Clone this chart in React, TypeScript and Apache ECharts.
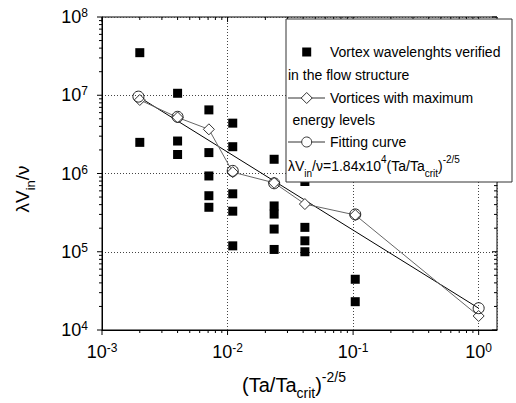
import React, { useEffect, useRef } from 'react';
import * as echarts from 'echarts';

// ---- data ----
const squareX = [
  0.002, 0.002,
  0.004, 0.004, 0.004,
  0.0071, 0.0071, 0.0071, 0.0071, 0.0071,
  0.011, 0.011, 0.011, 0.011, 0.011,
  0.0235, 0.0235, 0.0235, 0.0235, 0.0235,
  0.0413, 0.0413, 0.0413, 0.0413,
  0.104, 0.104,
];
const squareY = [
  3.5e7, 2.5e6,
  1.06e7, 2.6e6, 1.75e6,
  6.5e6, 1.85e6, 9.3e5, 5.2e5, 3.7e5,
  4.4e6, 2.2e6, 5.5e5, 3.3e5, 1.19e5,
  1.52e6, 3.85e5, 3.03e5, 1.95e5, 1.07e5,
  7.9e5, 2.05e5, 1.38e5, 1.0e5,
  4.45e4, 2.3e4,
];
const diamondX = [0.002, 0.004, 0.0071, 0.011, 0.0235, 0.0413, 0.104, 1];
const diamondY = [8.7e6, 5.2e6, 3.67e6, 1.04e6, 7.6e5, 4.07e5, 2.95e5, 1.51e4];
const circleX = [0.00195, 0.004, 0.011, 0.0235, 0.104, 1];
const circleY = [9.6e6, 5.3e6, 1.08e6, 7.5e5, 3.0e5, 1.9e4];
const fitX = [0.00195, 1];
const fitY = [9.6e6, 1.9e4];

const X_MIN = 0.001;
const X_MAX = 1.4;
const Y_MIN = 1e4;
const Y_MAX = 1e8;
const X_DECADES = [-3, -2, -1, 0];
const Y_DECADES = [4, 5, 6, 7, 8];

const legendLabels = [
  'Vortex wavelenghts verified',
  'in the flow structure',
  'Vortices with maximum',
  'energy levels',
  'Fitting curve',
];

const FONT = '"Liberation Sans", Arial, Helvetica, sans-serif';

function pairs(xs: number[], ys: number[]) {
  return xs.map((x, i) => [x, ys[i]]);
}

function buildTicks() {
  const t: number[][] = [];
  for (const e of X_DECADES) {
    for (let m = 1; m <= 9; m++) {
      const v = m * Math.pow(10, e);
      if (v > X_MAX * 1.0001) break;
      const major = m === 1 ? 1 : 0;
      t.push([v, Y_MIN, 0, major]);
      t.push([v, Y_MAX, 1, major]);
    }
  }
  for (const e of Y_DECADES) {
    for (let m = 1; m <= 9; m++) {
      const v = m * Math.pow(10, e);
      if (v > Y_MAX * 1.0001) break;
      const major = m === 1 ? 1 : 0;
      t.push([X_MIN, v, 2, major]);
      t.push([X_MAX, v, 3, major]);
    }
  }
  return t;
}

function powLabel(v: number) {
  const l = Math.log10(v);
  const e = Math.round(l);
  if (Math.abs(l - e) > 1e-6) return '';
  return `{b|10}{s|${e}}`;
}

const tickRich = {
  b: { fontSize: 18, fontFamily: FONT, color: '#000', lineHeight: 20 },
  s: { fontSize: 12, fontFamily: FONT, color: '#000', lineHeight: 12, verticalAlign: 'top' },
};

export default function App() {
  const ref = useRef<HTMLDivElement>(null);

  useEffect(() => {
    document.body.style.margin = '0';
    document.body.style.overflow = 'hidden';
    if (!ref.current) return;
    const chart = echarts.init(ref.current, undefined, { renderer: 'svg' });

    const txt = (text: string, x: number, y: number, extra: any = {}) => ({
      type: 'text',
      x,
      y,
      z: 102,
      style: {
        text,
        fill: '#000',
        fontSize: 14,
        fontFamily: FONT,
        align: 'left',
        verticalAlign: 'middle',
        ...extra,
      },
    });

    const lx1 = 288;
    const lx2 = 325;
    const lmx = 306.7;

    const option: any = {
      animation: false,
      backgroundColor: '#ffffff',
      grid: {
        left: 102,
        right: 19,
        top: 17,
        bottom: 73,
        show: true,
        borderColor: '#000',
        borderWidth: 1,
        backgroundColor: 'transparent',
        outerBoundsMode: 'none',
      },
      xAxis: {
        type: 'log',
        logBase: 10,
        min: X_MIN,
        max: X_MAX,
        axisLine: { show: true, lineStyle: { color: '#000', width: 1 } },
        axisTick: { show: false },
        minorTick: { show: false },
        splitLine: { show: true, lineStyle: { color: '#444', width: 1, type: [1, 2] } },
        axisLabel: {
          margin: 12,
          showMinLabel: true,
          showMaxLabel: true,
          formatter: powLabel,
          rich: tickRich,
        },
      },
      yAxis: {
        type: 'log',
        logBase: 10,
        min: Y_MIN,
        max: Y_MAX,
        axisLine: { show: true, lineStyle: { color: '#000', width: 1 } },
        axisTick: { show: false },
        minorTick: { show: false },
        splitLine: { show: true, lineStyle: { color: '#444', width: 1, type: [1, 2] } },
        axisLabel: {
          margin: 14,
          showMinLabel: true,
          showMaxLabel: true,
          formatter: powLabel,
          rich: tickRich,
        },
      },
      series: [
        {
          type: 'custom',
          name: 'ticks',
          clip: false,
          silent: true,
          z: 5,
          data: buildTicks(),
          renderItem: (params: any, api: any) => {
            const p = api.coord([api.value(0), api.value(1)]);
            const side = api.value(2);
            const len = api.value(3) ? 5 : 3;
            const x1 = p[0];
            const y1 = p[1];
            let x2 = x1;
            let y2 = y1;
            if (side === 0 || side === 1) {
              y2 = y1 + len;
            } else {
              x2 = x1 - len;
            }
            return {
              type: 'line',
              shape: { x1, y1, x2, y2 },
              style: { stroke: '#000', lineWidth: 1 },
            };
          },
        },
        {
          type: 'line',
          name: 'Fitting curve line',
          data: pairs(fitX, fitY),
          symbol: 'none',
          lineStyle: { color: '#000', width: 1 },
          z: 3,
        },
        {
          type: 'line',
          name: 'Vortices with maximum energy levels',
          data: pairs(diamondX, diamondY),
          symbol: 'diamond',
          symbolSize: 11,
          lineStyle: { color: '#666', width: 1 },
          itemStyle: { color: '#fff', borderColor: '#333', borderWidth: 1, opacity: 1 },
          z: 4,
        },
        {
          type: 'scatter',
          name: 'Fitting curve',
          data: pairs(circleX, circleY),
          symbol: 'circle',
          symbolSize: 11,
          itemStyle: { color: 'rgba(255,255,255,0)', borderColor: '#222', borderWidth: 1, opacity: 1 },
          z: 4,
        },
        {
          type: 'scatter',
          name: 'Vortex wavelenghts verified in the flow structure',
          data: pairs(squareX, squareY),
          symbol: 'rect',
          symbolSize: 9,
          itemStyle: { color: '#000', opacity: 1 },
          z: 4,
        },
      ],
      graphic: [
        // legend box
        {
          type: 'rect',
          z: 100,
          shape: { x: 286, y: 19, width: 226, height: 163 },
          style: { fill: '#fff', stroke: '#333', lineWidth: 1 },
        },
        {
          type: 'rect',
          z: 101,
          shape: { x: lmx - 4.5, y: 47.5, width: 9, height: 9 },
          style: { fill: '#000' },
        },
        txt(legendLabels[0], 330, 52),
        txt(legendLabels[1], 288, 75),
        {
          type: 'line',
          z: 101,
          shape: { x1: lx1, y1: 98, x2: lx2, y2: 98 },
          style: { stroke: '#333', lineWidth: 1 },
        },
        {
          type: 'polygon',
          z: 102,
          shape: {
            points: [
              [lmx, 92.5],
              [lmx + 5.5, 98],
              [lmx, 103.5],
              [lmx - 5.5, 98],
            ],
          },
          style: { fill: '#fff', stroke: '#333', lineWidth: 1 },
        },
        txt(legendLabels[2], 330, 98),
        txt(legendLabels[3], 292.5, 120),
        {
          type: 'line',
          z: 101,
          shape: { x1: lx1, y1: 142, x2: lx2, y2: 142 },
          style: { stroke: '#333', lineWidth: 1 },
        },
        {
          type: 'circle',
          z: 102,
          shape: { cx: lmx, cy: 142, r: 5 },
          style: { fill: '#fff', stroke: '#333', lineWidth: 1 },
        },
        txt(legendLabels[4], 330, 142),
        txt(
          '{m|λV}{d|in}{m|/ν=1.84x10}{u|4}{m|(Ta/Ta}{d|crit}{m|)}{u|-2/5}',
          288,
          166,
          {
            rich: {
              m: { fontSize: 14, fontFamily: FONT, fill: '#000', lineHeight: 24 },
              d: { fontSize: 10, fontFamily: FONT, fill: '#000', lineHeight: 12, verticalAlign: 'bottom' },
              u: { fontSize: 10, fontFamily: FONT, fill: '#000', lineHeight: 14, verticalAlign: 'top' },
            },
          }
        ),
        // axis titles
        {
          type: 'text',
          x: 22,
          y: 189,
          rotation: Math.PI / 2,
          z: 50,
          style: {
            text: '{m|λV}{d|in}{m|/ν}',
            align: 'center',
            verticalAlign: 'middle',
            fill: '#000',
            rich: {
              m: { fontSize: 19, fontFamily: FONT, fill: '#000', lineHeight: 30 },
              d: { fontSize: 13, fontFamily: FONT, fill: '#000', lineHeight: 14, verticalAlign: 'bottom' },
            },
          },
        },
        {
          type: 'text',
          x: 294,
          y: 385,
          z: 50,
          style: {
            text: '{m|(Ta/Ta}{d|crit}{m|)}{u|-2/5}',
            align: 'center',
            verticalAlign: 'middle',
            fill: '#000',
            rich: {
              m: { fontSize: 20, fontFamily: FONT, fill: '#000', lineHeight: 30 },
              d: { fontSize: 14, fontFamily: FONT, fill: '#000', lineHeight: 14, verticalAlign: 'bottom' },
              u: { fontSize: 14, fontFamily: FONT, fill: '#000', lineHeight: 20, verticalAlign: 'top' },
            },
          },
        },
      ],
    };

    chart.setOption(option);
    return () => {
      chart.dispose();
    };
  }, []);

  return <div ref={ref} style={{ width: 516, height: 403 }} />;
}
